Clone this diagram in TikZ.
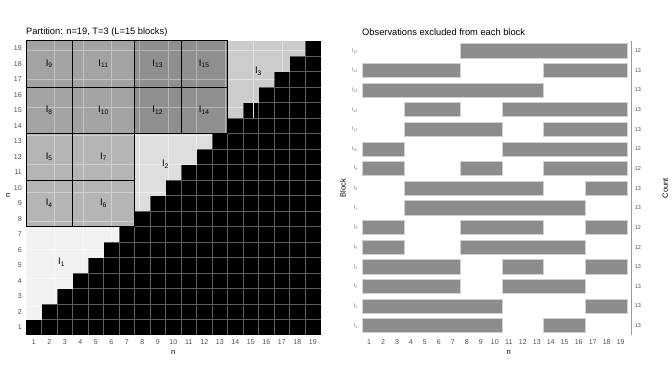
\documentclass[tikz,border=0pt]{standalone}
\usepackage{fontspec}
\setmainfont{Liberation Sans}
\usepackage{xcolor}
\usetikzlibrary{positioning}

\definecolor{diagA}{HTML}{F2F2F2}
\definecolor{diagB}{HTML}{DEDEDE}
\definecolor{diagC}{HTML}{CCCCCC}
\definecolor{offA}{HTML}{B5B5B5}
\definecolor{offB}{HTML}{A3A3A3}
\definecolor{offC}{HTML}{8F8F8F}
\definecolor{barfill}{HTML}{8C8C8C}
\definecolor{tickgray}{HTML}{4D4D4D}
\definecolor{darkgrid}{HTML}{5E5E5E}

\begin{document}
\begin{tikzpicture}[
    x=1pt, y=1pt,
    every node/.style={inner sep=0pt},
    title/.style={anchor=west, font=\fontsize{9.3}{11}\selectfont},
    ticklab/.style={text=tickgray, font=\fontsize{7}{8}\selectfont},
    axtitle/.style={font=\fontsize{7.5}{9}\selectfont},
    blocklab/.style={font=\fontsize{9.5}{11}\selectfont},
    rowlab/.style={anchor=east, text=black!50, font=\fontsize{5.5}{6}\selectfont},
    countlab/.style={text=tickgray, font=\fontsize{5.5}{6}\selectfont},
    gridline/.style={draw=#1, line width=0.7pt, shift={(0.5,0.5)}},
    blockline/.style={draw=black, line width=0.9pt},
    excl/.style={fill=barfill, draw=black!18, line width=0.6pt},
  ]
  \useasboundingbox (0,0) rectangle (672,384);

  % Titles
  \node[title] (ptitle) at (26,351.5) {Partition: n=19, T=3 (L=15 blocks)};
  \node[title] (otitle) at (362,351.5) {Observations excluded from each block};

  % Left panel: partition of the n x n grid
  \begin{scope}[shift={(18.25,41.25)}, x=15.5pt, y=15.5pt]
    \fill[black] (0.5,0.5) rectangle (19.5,19.5);
    \foreach \k in {1,...,18} {
      \draw[darkgrid, line width=0.9pt] (\k+0.5,0.5) -- (\k+0.5,19.5);
      \draw[darkgrid, line width=0.9pt] (0.5,\k+0.5) -- (19.5,\k+0.5);
    }

    % Diagonal blocks (strict lower triangle in n)
    \foreach \y in {2,...,7}   \fill[diagA] (0.5,\y-0.5) rectangle (\y-0.5,\y+0.5);
    \foreach \y in {9,...,13}  \fill[diagB] (7.5,\y-0.5) rectangle (\y-0.5,\y+0.5);
    \foreach \y in {15,...,19} \fill[diagC] (13.5,\y-0.5) rectangle (\y-0.5,\y+0.5);
    \foreach \y in {2,...,7}   \draw[gridline=diagA!55!white] (0,\y-1) grid (\y-1,\y);
    \foreach \y in {9,...,13}  \draw[gridline=diagB!55!white] (7,\y-1) grid (\y-1,\y);
    \foreach \y in {15,...,19} \draw[gridline=diagC!55!white] (13,\y-1) grid (\y-1,\y);

    % Off-diagonal blocks
    \foreach \xa/\ya/\xb/\yb/\c in {
        0.5/7.5/3.5/10.5/offA, 0.5/10.5/3.5/13.5/offA,
        3.5/7.5/7.5/10.5/offA, 3.5/10.5/7.5/13.5/offA,
        0.5/13.5/3.5/16.5/offB, 0.5/16.5/3.5/19.5/offB,
        3.5/13.5/7.5/16.5/offB, 3.5/16.5/7.5/19.5/offB,
        7.5/13.5/10.5/16.5/offC, 7.5/16.5/10.5/19.5/offC,
        10.5/13.5/13.5/16.5/offC, 10.5/16.5/13.5/19.5/offC} {
      \fill[\c] (\xa,\ya) rectangle (\xb,\yb);
      \draw[gridline=\c!65!white] (\xa-0.5,\ya-0.5) grid (\xb-0.5,\yb-0.5);
    }

    % Block borders
    \foreach \xa/\ya/\xb/\yb in {
        0.5/7.5/3.5/10.5, 0.5/10.5/3.5/13.5,
        3.5/7.5/7.5/10.5, 3.5/10.5/7.5/13.5,
        0.5/13.5/3.5/16.5, 0.5/16.5/3.5/19.5,
        3.5/13.5/7.5/16.5, 3.5/16.5/7.5/19.5,
        7.5/13.5/10.5/16.5, 7.5/16.5/10.5/19.5,
        10.5/13.5/13.5/16.5, 10.5/16.5/13.5/19.5}
      \draw[blockline] (\xa,\ya) rectangle (\xb,\yb);

    % Block labels
    \node[blocklab] (lab1)  at (2.8,5.2)  {I\textsubscript{1}};
    \node[blocklab] (lab2)  at (9.5,11.5) {I\textsubscript{2}};
    \node[blocklab] (lab3)  at (15.5,17.5) {I\textsubscript{3}};
    \node[blocklab] (lab4)  at (2,9)      {I\textsubscript{4}};
    \node[blocklab] (lab5)  at (2,12)     {I\textsubscript{5}};
    \node[blocklab] (lab6)  at (5.5,9)    {I\textsubscript{6}};
    \node[blocklab] (lab7)  at (5.5,12)   {I\textsubscript{7}};
    \node[blocklab] (lab8)  at (2,15)     {I\textsubscript{8}};
    \node[blocklab] (lab9)  at (2,18)     {I\textsubscript{9}};
    \node[blocklab] (lab10) at (5.5,15)   {I\textsubscript{10}};
    \node[blocklab] (lab11) at (5.5,18)   {I\textsubscript{11}};
    \node[blocklab] (lab12) at (9,15)     {I\textsubscript{12}};
    \node[blocklab] (lab13) at (9,18)     {I\textsubscript{13}};
    \node[blocklab] (lab14) at (12,15)    {I\textsubscript{14}};
    \node[blocklab] (lab15) at (12,18)    {I\textsubscript{15}};

    % Axes
    \foreach \k in {1,...,19} {
      \node[ticklab] (lx\k) at (\k,0.05) {\k};
      \node[ticklab, anchor=east] (ly\k) at (0.24,\k) {\k};
    }
    \node[axtitle] (lxn) at (10,-0.6) {n};
    \node[axtitle, rotate=90] (lyn) at (-0.66,9.5) {n};
  \end{scope}

  % Right panel: excluded observations per block
  \begin{scope}[shift={(355.02,38.66)}, x=13.98pt, y=19.64pt]
    \foreach \l/\a/\b in {
        1/1/10, 1/14/16,
        2/1/10, 2/17/19,
        3/1/7, 3/11/16,
        4/1/7, 4/11/13, 4/17/19,
        5/1/3, 5/8/16,
        6/1/3, 6/8/13, 6/17/19,
        7/4/16,
        8/4/13, 8/17/19,
        9/1/3, 9/8/10, 9/14/19,
        10/1/3, 10/11/19,
        11/4/10, 11/14/19,
        12/4/7, 12/11/19,
        13/1/13,
        14/1/7, 14/14/19,
        15/8/19}
      \draw[excl] (\a-0.5,\l-0.36) rectangle (\b+0.5,\l+0.36);

    % Block names and counts
    \foreach \l/\c in {1/13, 2/13, 3/13, 4/13, 5/12, 6/12, 7/13, 8/13,
                       9/12, 10/12, 11/13, 12/13, 13/13, 14/13, 15/12} {
      \node[rowlab] (row\l) at (0.22,\l) {I\textsubscript{\l}};
      \node[countlab] (cnt\l) at (20.24,\l) {\c};
    }
    \coordinate (cbot) at (19.79,0.53);
    \coordinate (ctop) at (19.79,15.51);
    \draw[black!40, line width=0.6pt] (cbot) -- (ctop);

    % Axes
    \foreach \k in {1,...,19}
      \node[ticklab] (rx\k) at (\k,0.17) {\k};
    \node[axtitle] (rxn) at (11,-0.34) {n};
    \node[axtitle, rotate=90] (rblock) at (-0.86,8) {Block};
    \node[axtitle, rotate=90] (rcount) at (22.2,8) {Count};
  \end{scope}
\end{tikzpicture}
\end{document}
